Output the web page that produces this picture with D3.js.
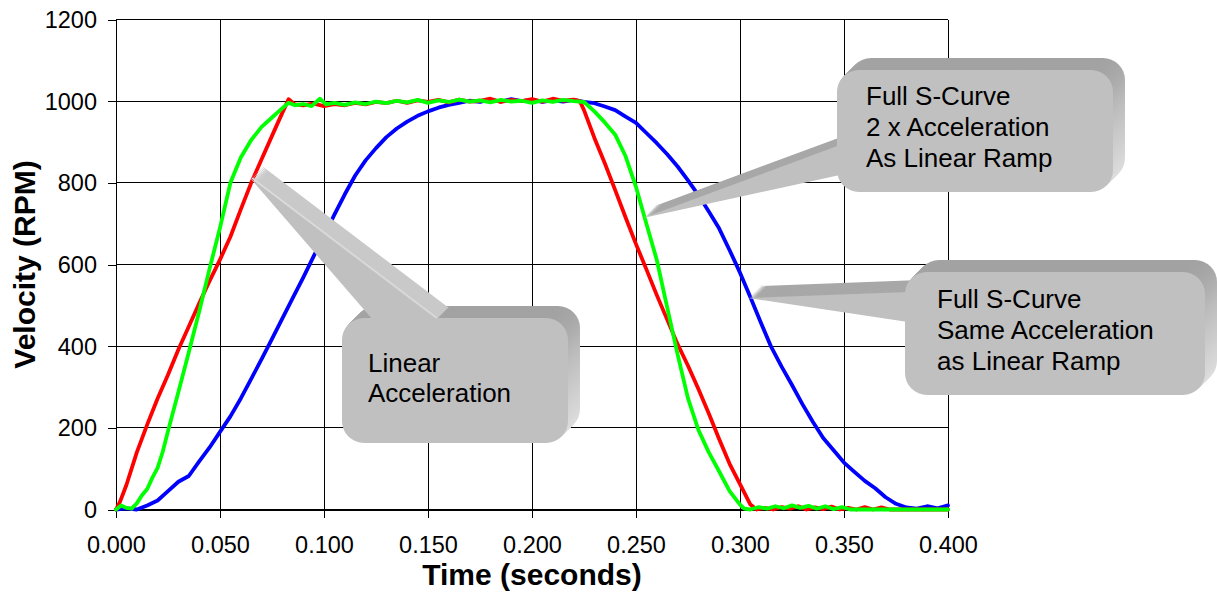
<!DOCTYPE html>
<html lang="en">
<head>
<meta charset="UTF-8">
<title>Velocity profiles</title>
<style>
  body { margin: 0; background: #fff; }
  svg { display: block; font-family: Arial, "Liberation Sans", sans-serif; }
  .tick text { font-size: 23.5px; fill: #000; }
  .axis-title { font-size: 30px; font-weight: bold; fill: #000; }
  .callout-text { font-size: 26px; fill: #000; }
</style>
</head>
<body>
<svg id="chart" width="1217" height="593"></svg>
<script src="https://d3js.org/d3.v7.min.js"></script>
<script>
// ---- data ----
const xTicks = [0, 0.05, 0.1, 0.15, 0.2, 0.25, 0.3, 0.35, 0.4];
const yTicks = [0, 200, 400, 600, 800, 1000, 1200];

// red: linear acceleration
const linearTime = [0, 0.002, 0.005, 0.010, 0.015, 0.020, 0.025, 0.030, 0.035, 0.040, 0.045, 0.050, 0.055, 0.060, 0.065, 0.070, 0.075, 0.080, 0.083,
  0.086, 0.090, 0.095, 0.100, 0.105, 0.110, 0.115, 0.120, 0.125, 0.130, 0.135, 0.140, 0.145, 0.150, 0.155, 0.160, 0.165, 0.170, 0.175, 0.180, 0.185, 0.190, 0.195, 0.200, 0.205, 0.210, 0.215, 0.220,
  0.223, 0.225, 0.230, 0.235, 0.240, 0.245, 0.250, 0.255, 0.260, 0.265, 0.270, 0.275, 0.280, 0.285, 0.290, 0.295, 0.300, 0.305, 0.308,
  0.312, 0.316, 0.320, 0.324, 0.328, 0.332, 0.336, 0.340, 0.344, 0.348, 0.352, 0.356, 0.360, 0.364, 0.368, 0.372, 0.380, 0.390, 0.400];
const linearRpm = [0, 20, 60, 140, 208, 272, 330, 392, 448, 505, 560, 612, 668, 735, 800, 858, 915, 972, 1005,
  992, 990, 994, 988, 993, 990, 996, 992, 998, 995, 1001, 996, 1002, 998, 1003, 997, 1004, 999, 1001, 1006, 998, 1003, 1000, 1005, 999, 1006, 1001, 1004,
  1000, 978, 910, 848, 782, 715, 650, 588, 525, 465, 405, 352, 295, 235, 172, 112, 62, 12, 0,
  4, 0, 6, 2, 8, 0, 5, 1, 7, 0, 4, 0, 6, 0, 5, 0, 0, 0, 0];

// green: full S-curve, 2 x acceleration
const sCurve2xTime = [0, 0.0025, 0.005, 0.0075, 0.010, 0.0125, 0.015, 0.0175, 0.020, 0.0225, 0.025, 0.0275, 0.030, 0.035, 0.040, 0.045, 0.050, 0.055, 0.060, 0.065, 0.070, 0.075, 0.080, 0.083,
  0.086, 0.090, 0.094, 0.098, 0.101, 0.105, 0.110, 0.115, 0.120, 0.125, 0.130, 0.135, 0.140, 0.145, 0.150, 0.155, 0.160, 0.165, 0.170, 0.175, 0.180, 0.185, 0.190, 0.195, 0.200, 0.205, 0.210, 0.215, 0.220,
  0.225, 0.230, 0.235, 0.240, 0.245, 0.250, 0.255, 0.260, 0.265, 0.270, 0.275, 0.280, 0.285, 0.290, 0.295, 0.300, 0.302,
  0.305, 0.309, 0.313, 0.317, 0.321, 0.325, 0.329, 0.333, 0.337, 0.341, 0.345, 0.349, 0.353, 0.360, 0.370, 0.380, 0.390, 0.400];
const sCurve2xRpm = [0, 10, 4, 2, 15, 35, 50, 78, 102, 142, 192, 240, 288, 385, 485, 590, 690, 800, 862, 905, 937, 960, 983, 996,
  990, 993, 988, 1006, 992, 996, 991, 997, 993, 999, 995, 1001, 997, 1003, 996, 1002, 998, 1004, 999, 1002, 997, 1003, 999, 1001, 996, 1002, 998, 1003, 1000,
  998, 975, 948, 918, 865, 790, 700, 611, 495, 380, 272, 195, 140, 93, 45, 12, 2,
  0, 6, 2, 8, 3, 10, 4, 9, 2, 8, 1, 6, 0, 0, 0, 0, 0, 0];

// blue: full S-curve, same acceleration
const sCurveTime = [0, 0.005, 0.010, 0.015, 0.020, 0.025, 0.030, 0.035, 0.040, 0.045, 0.050, 0.055, 0.060, 0.065, 0.070, 0.075, 0.080, 0.085, 0.090, 0.095,
  0.100, 0.105, 0.110, 0.115, 0.120, 0.125, 0.130, 0.135, 0.140, 0.145, 0.150, 0.155, 0.160, 0.165, 0.170, 0.175, 0.180, 0.185, 0.190, 0.195,
  0.200, 0.205, 0.210, 0.215, 0.220, 0.225, 0.230, 0.235, 0.240, 0.245, 0.250, 0.255, 0.260, 0.265, 0.270, 0.275, 0.280, 0.285, 0.290, 0.295,
  0.300, 0.305, 0.310, 0.315, 0.320, 0.325, 0.330, 0.335, 0.340, 0.345, 0.350, 0.355, 0.360, 0.365, 0.370, 0.375, 0.380, 0.385, 0.390, 0.395, 0.400];
const sCurveRpm = [0, 3, 0, 10, 22, 45, 68, 82, 118, 152, 190, 228, 272, 320, 368, 418, 468, 518, 568, 620,
  670, 722, 772, 818, 855, 885, 912, 933, 950, 964, 975, 984, 991, 996, 1001, 998, 1004, 999, 1005, 1000,
  1003, 998, 1002, 999, 1003, 998, 995, 987, 978, 962, 947, 922, 897, 870, 840, 806, 770, 730, 688, 635,
  580, 520, 458, 398, 350, 305, 258, 215, 175, 145, 115, 92, 70, 52, 30, 14, 5, 2, 8, 3, 10];

const calloutLines = [
  ["Linear", "Acceleration"],
  ["Full S-Curve", "2 x Acceleration", "As Linear Ramp"],
  ["Full S-Curve", "Same Acceleration", "as Linear Ramp"]
];

// ---- layout ----
const svg = d3.select('#chart');
const plotLeft = 116, plotRight = 948, plotTop = 19.5, plotBottom = 509.5;

const x = d3.scaleLinear().domain([0, 0.4]).range([plotLeft, plotRight]);
const y = d3.scaleLinear().domain([0, 1200]).range([plotBottom, plotTop]);

// grid
const grid = svg.append('g').attr('stroke', '#000').attr('stroke-width', 1).attr('shape-rendering', 'crispEdges');
grid.selectAll('.vg').data(xTicks).enter().append('line')
  .attr('x1', d => Math.round(x(d)) + 0.5).attr('x2', d => Math.round(x(d)) + 0.5)
  .attr('y1', plotTop).attr('y2', plotBottom);
grid.selectAll('.hg').data(yTicks).enter().append('line')
  .attr('x1', plotLeft).attr('x2', plotRight)
  .attr('y1', d => y(d)).attr('y2', d => y(d));

// axes
const xAxis = svg.append('g')
  .attr('transform', `translate(0,${plotBottom})`)
  .call(d3.axisBottom(x).tickValues(xTicks).tickFormat(d3.format('.3f')).tickSize(8).tickPadding(19));
const yAxis = svg.append('g')
  .attr('transform', `translate(${plotLeft},0)`)
  .call(d3.axisLeft(y).tickValues(yTicks).tickFormat(d3.format('d')).tickSize(8).tickPadding(11));
[xAxis, yAxis].forEach(a => {
  a.attr('font-family', null).attr('font-size', null);
  a.selectAll('line, path').attr('stroke', '#000').attr('shape-rendering', 'crispEdges');
});
yAxis.selectAll('text').attr('dy', '0.34em');

svg.append('text').attr('class', 'axis-title')
  .attr('x', (plotLeft + plotRight) / 2).attr('y', 585).attr('text-anchor', 'middle')
  .text('Time (seconds)');
svg.append('text').attr('class', 'axis-title')
  .attr('transform', `translate(35,${(plotTop + plotBottom) / 2}) rotate(-90)`)
  .attr('text-anchor', 'middle')
  .text('Velocity (RPM)');

// series
const line = d3.line().x(d => x(d[0])).y(d => y(d[1]));
const series = [
  { t: sCurveTime, v: sCurveRpm, color: '#0000ff' },
  { t: linearTime, v: linearRpm, color: '#ff0000' },
  { t: sCurve2xTime, v: sCurve2xRpm, color: '#00ff00' }
];
series.forEach(s => {
  svg.append('path')
    .datum(s.t.map((t, i) => [t, s.v[i]]))
    .attr('fill', 'none')
    .attr('stroke', s.color)
    .attr('stroke-width', 3.8)
    .attr('stroke-linejoin', 'round')
    .attr('stroke-linecap', 'round')
    .attr('d', line);
});

// callouts (3D rounded boxes with pointer)
const defs = svg.append('defs');
const grad = defs.append('linearGradient').attr('id', 'side').attr('x1', 0).attr('y1', 0).attr('x2', 0).attr('y2', 1);
grad.append('stop').attr('offset', '0%').attr('stop-color', '#a2a2a2');
grad.append('stop').attr('offset', '35%').attr('stop-color', '#bdbdbd');
grad.append('stop').attr('offset', '100%').attr('stop-color', '#e2e2e2');

const callouts = [
  { box: [342, 318, 226, 125], wedge: [[250, 178], [373, 320], [437, 320]], wedgeSide: '#c9c9c9', highlight: true, tx: 368, ty: 372, lh: 30 },
  { box: [837, 70, 276, 122], wedge: [[643, 218], [840, 145], [840, 175]], wedgeSide: '#a8a8a8', highlight: false, tx: 866, ty: 105, lh: 31 },
  { box: [905, 272, 300, 123], wedge: [[748, 298], [908, 292], [908, 322]], wedgeSide: '#a8a8a8', highlight: false, tx: 937, ty: 308, lh: 31 }
];
const depth = 12, steps = 12;

callouts.forEach((c, ci) => {
  const g = svg.append('g');
  const [bx, by, bw, bh] = c.box;
  for (let i = steps; i >= 1; i--) {
    const dx = depth * i / steps, dy = -depth * i / steps;
    g.append('rect').attr('x', bx + dx).attr('y', by + dy).attr('width', bw).attr('height', bh)
      .attr('rx', 22).attr('fill', 'url(#side)');
  }
  for (let i = steps; i >= 1; i--) {
    const dx = depth * i / steps, dy = -depth * i / steps;
    g.append('polygon').attr('points', c.wedge.map(p => [p[0] + dx, p[1] + dy].join(',')).join(' '))
      .attr('fill', c.wedgeSide);
  }
  g.append('rect').attr('x', bx).attr('y', by).attr('width', bw).attr('height', bh)
    .attr('rx', 22).attr('fill', '#c0c0c0');
  g.append('polygon').attr('points', c.wedge.map(p => p.join(',')).join(' ')).attr('fill', '#c0c0c0');
  if (c.highlight) {
    g.append('line').attr('x1', c.wedge[0][0] + 2).attr('y1', c.wedge[0][1])
      .attr('x2', c.wedge[2][0]).attr('y2', c.wedge[2][1] - 2)
      .attr('stroke', '#dcdcdc').attr('stroke-width', 1.5);
  }
  const txt = g.append('text').attr('class', 'callout-text');
  calloutLines[ci].forEach((s, li) => {
    txt.append('tspan').attr('x', c.tx).attr('y', c.ty + li * c.lh).text(s);
  });
});
</script>
</body>
</html>
